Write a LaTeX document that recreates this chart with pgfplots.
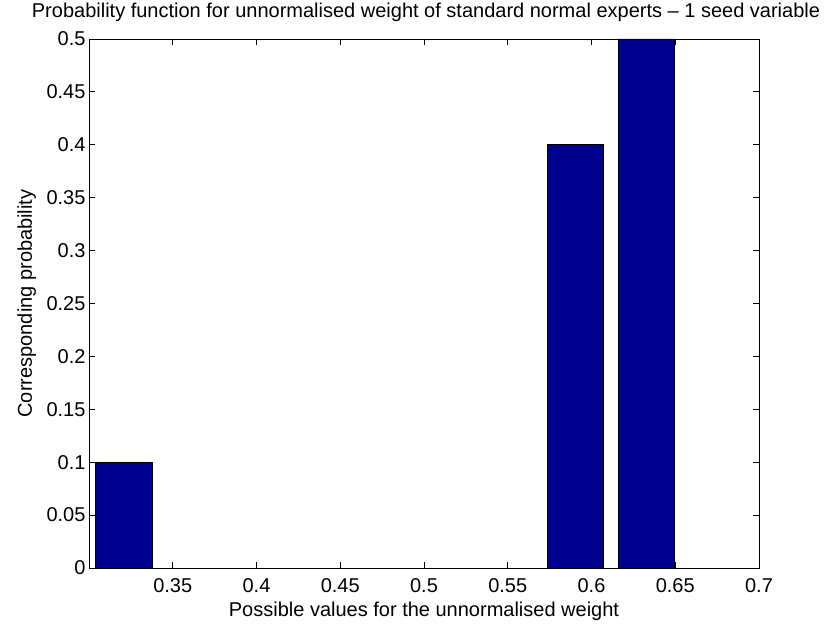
\documentclass[border=0pt]{standalone}
\usepackage{fontspec}
\setmainfont{Liberation Sans}
\usepackage{pgfplots}
\pgfplotsset{compat=1.18}
\usetikzlibrary{calc}
\definecolor{matnavy}{RGB}{0,0,143}
\begin{document}
\begin{tikzpicture}
\useasboundingbox (0,0) rectangle (839pt,629pt);
\begin{axis}[
  at={(89pt,61pt)}, anchor=south west,
  scale only axis, width=670pt, height=529pt,
  xmin=0.3, xmax=0.7, ymin=0, ymax=0.5,
  xtick={0.35,0.4,0.45,0.5,0.55,0.6,0.65,0.7},
  ytick={0,0.05,0.1,0.15,0.2,0.25,0.3,0.35,0.4,0.45,0.5},
  /pgf/number format/.cd, fixed, precision=2, assume math mode=true, /pgfplots/.cd,
  tick align=inside, major tick length=6pt,
  tick style={black, line width=0.8pt},
  axis line style={black, line width=0.8pt},
  ticklabel style={font=\fontsize{20}{24}\selectfont},
  xticklabel style={yshift=-7pt},
  title={Probability function for unnormalised weight of standard normal experts \textendash{} 1 seed variable},
  title style={font=\fontsize{20}{24}\selectfont, at={($(axis description cs:0.5,1)+(2pt,15pt)$)}, anchor=base},
  xlabel={Possible values for the unnormalised weight},
  xlabel style={font=\fontsize{20}{24}\selectfont, at={($(axis description cs:0.5,0)+(0pt,-49pt)$)}, anchor=base},
  ylabel={Corresponding probability},
  ylabel style={font=\fontsize{20}{24}\selectfont, at={($(axis description cs:0,0.5)+(-57pt,0pt)$)}, anchor=base},
]
\addplot[ybar, bar width=0.0338, fill=matnavy, draw=black, line width=0.8pt]
  coordinates {(0.3208,0.1) (0.5905,0.4) (0.6328,0.5)};
\end{axis}
\end{tikzpicture}
\end{document}
